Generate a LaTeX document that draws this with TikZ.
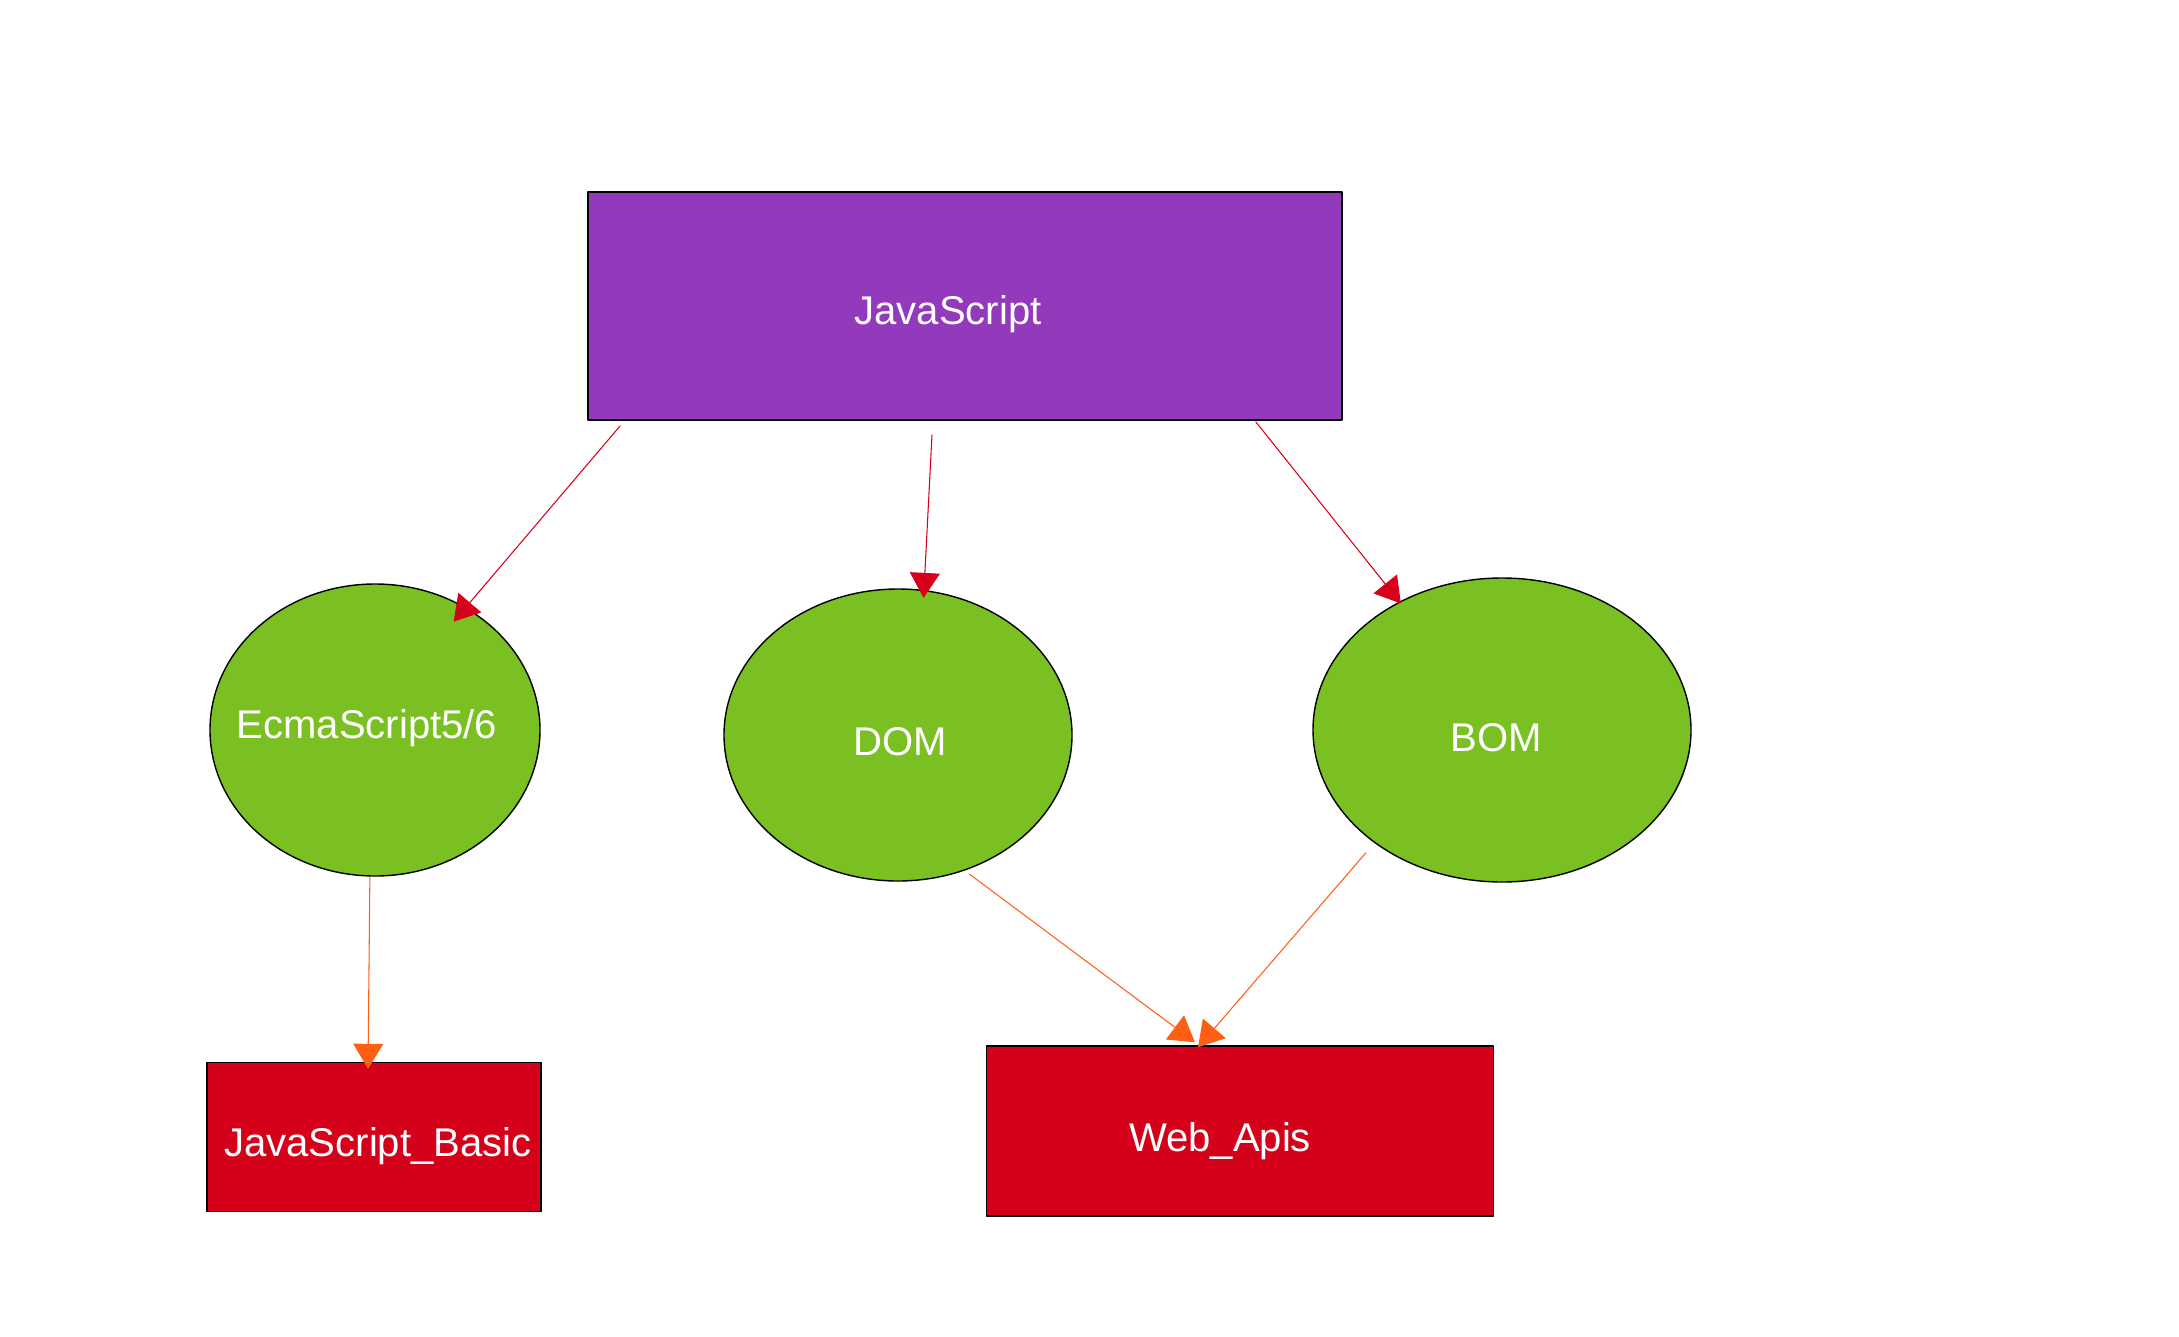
\documentclass[tikz,border=0pt]{standalone}
\usepackage{fontspec}
\setmainfont{Liberation Sans}
\usetikzlibrary{shapes.geometric,arrows.meta}
\definecolor{jspurple}{RGB}{147,57,188}
\definecolor{leafgreen}{RGB}{123,192,35}
\definecolor{boxred}{RGB}{213,0,25}
\definecolor{tiporange}{RGB}{255,95,21}
% text of zero width, moved sideways by #1 and down by #2
\newcommand\nudge[3]{\makebox[0pt]{\hspace{#1}\hspace{#1}\raisebox{-#2}[\height][\depth]{#3}}}
\begin{document}
\begin{tikzpicture}[line join=round,x=1cm,y=1cm,
    every node/.style={text=white,font=\fontsize{11.4}{13}\selectfont,inner sep=0pt},
    box/.style={draw=black,line width=0.4pt,rectangle},
    blob/.style={draw=black,line width=0.4pt,ellipse,fill=leafgreen},
    link/.style={line width=0.3pt,-{Triangle[length=2.5mm,width=3mm]}}]
  \useasboundingbox (0,0) rectangle (21.79,-13.36);
  \node[box,fill=jspurple,minimum width=7.54cm,minimum height=2.28cm] (js) at (9.65,-3.06) {\nudge{-0.17cm}{0.08cm}{JavaScript}};
  \node[blob,minimum width=3.3cm,minimum height=2.92cm] (ecma) at (3.75,-7.30) {\nudge{-0.08cm}{-0.02cm}{EcmaScript5/6}};
  \node[blob,minimum width=3.48cm,minimum height=2.92cm] (dom) at (8.98,-7.35) {\nudge{0.02cm}{0.07cm}{DOM}};
  \node[blob,minimum width=3.78cm,minimum height=3.04cm] (bom) at (15.02,-7.30) {\nudge{-0.06cm}{0.08cm}{BOM}};
  \node[box,fill=boxred,minimum width=3.34cm,minimum height=1.49cm] (basic) at (3.74,-11.37) {\nudge{0.04cm}{0.09cm}{JavaScript\_Basic}};
  \node[box,fill=boxred,minimum width=5.07cm,minimum height=1.70cm] (web) at (12.40,-11.31) {\nudge{-0.20cm}{0.1cm}{Web\_Apis}};
  % top layer
  \draw[link,draw=boxred] ([xshift=3.3mm,yshift=-0.5mm]js.south west) -- ([xshift=-1.1mm,yshift=-1.5mm]ecma.54);
  \draw[link,draw=boxred] ([xshift=-3.3mm,yshift=-1.4mm]js.south) -- ([yshift=-0.8mm]dom.80);
  \draw[link,draw=boxred] ([xshift=-8.7mm,yshift=-0.1mm]js.south east) -- ([xshift=0.5mm]bom.130);
  % bottom layer
  \draw[link,draw=tiporange] (ecma.-92) -- ([xshift=-0.6mm,yshift=-0.7mm]basic.north);
  \draw[link,draw=tiporange] ([yshift=-0.5mm]dom.-62) -- ([xshift=-4.5mm,yshift=0.3mm]web.north);
  \draw[link,draw=tiporange] ([xshift=-1.2mm,yshift=-0.7mm]bom.-137) -- ([xshift=-4.2mm,yshift=-0.2mm]web.north);
\end{tikzpicture}
\end{document}
